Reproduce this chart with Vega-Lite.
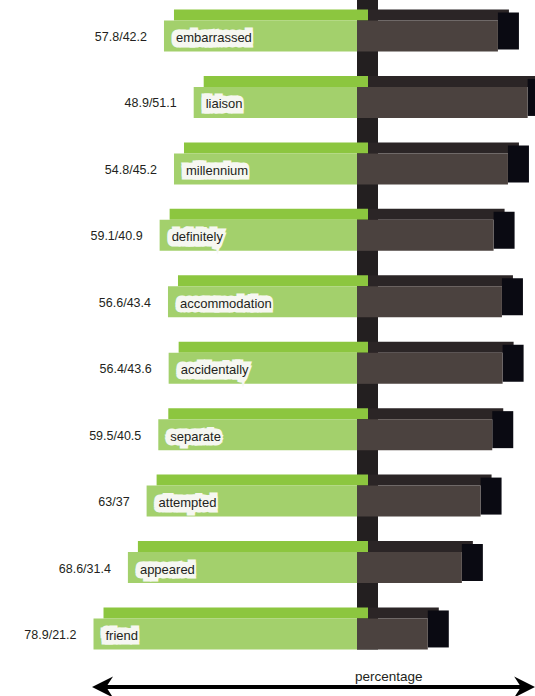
{
  "$schema": "https://vega.github.io/schema/vega-lite/v6.json",
  "width": 535,
  "height": 696,
  "padding": 0,
  "autosize": {"type": "none"},
  "background": "white",
  "config": {"view": {"stroke": null}, "text": {"font": "Liberation Sans"}},
  "data": {
    "values": [
      {"word": "embarrassed", "green": 57.8, "dark": 42.2, "label": "57.8/42.2"},
      {"word": "liaison", "green": 48.9, "dark": 51.1, "label": "48.9/51.1"},
      {"word": "millennium", "green": 54.8, "dark": 45.2, "label": "54.8/45.2"},
      {"word": "definitely", "green": 59.1, "dark": 40.9, "label": "59.1/40.9"},
      {"word": "accommodation", "green": 56.6, "dark": 43.4, "label": "56.6/43.4"},
      {"word": "accidentally", "green": 56.4, "dark": 43.6, "label": "56.4/43.6"},
      {"word": "separate", "green": 59.5, "dark": 40.5, "label": "59.5/40.5"},
      {"word": "attempted", "green": 63, "dark": 37, "label": "63/37"},
      {"word": "appeared", "green": 68.6, "dark": 31.4, "label": "68.6/31.4"},
      {"word": "friend", "green": 78.9, "dark": 21.2, "label": "78.9/21.2"}
    ]
  },
  "encoding": {
    "y": {"field": "word", "type": "nominal", "scale": {"domain": ["embarrassed", "liaison", "millennium", "definitely", "accommodation", "accidentally", "separate", "attempted", "appeared", "friend"], "paddingInner": 0, "paddingOuter": 0.2378, "align": 0.088}, "axis": null}
  },
  "resolve": {"scale": {"x": "independent"}},
  "layer": [
    {
      "mark": {"type": "bar", "color": "#231f20", "height": 67, "yOffset": -18, "x2Offset": 21},
      "encoding": {
        "x": {"datum": 0, "type": "quantitative", "scale": {"domain": [-106.9, 53.3], "nice": false, "zero": false}, "axis": null},
        "x2": {"datum": 0},
        "y": {"field": "word", "type": "nominal", "stack": null}
      }
    },
    {
      "mark": {"type": "bar", "color": "#8cc63f", "height": 11, "yOffset": -21, "xOffset": 10, "x2Offset": 11},
      "encoding": {
        "x": {"field": "green", "type": "quantitative", "scale": {"domain": [-53.3, 106.9], "reverse": true, "nice": false, "zero": false}, "axis": null},
        "x2": {"datum": 0}
      }
    },
    {
      "mark": {"type": "bar", "color": "#2b2526", "height": 11, "yOffset": -21, "xOffset": 11, "x2Offset": 11},
      "encoding": {
        "x": {"field": "dark", "type": "quantitative", "scale": {"domain": [-106.9, 53.3], "nice": false, "zero": false}, "axis": null},
        "x2": {"datum": 0}
      }
    },
    {
      "mark": {"type": "bar", "color": "#0a0a12", "height": 37, "yOffset": -5, "x2Offset": 21},
      "encoding": {
        "x": {"field": "dark", "type": "quantitative", "scale": {"domain": [-106.9, 53.3], "nice": false, "zero": false}, "axis": null},
        "x2": {"field": "dark"}
      }
    },
    {
      "mark": {"type": "bar", "color": "#a3d06c", "height": 31},
      "encoding": {
        "x": {"field": "green", "type": "quantitative", "scale": {"domain": [-53.3, 106.9], "reverse": true, "nice": false, "zero": false}, "axis": null},
        "x2": {"datum": 0}
      }
    },
    {
      "mark": {"type": "bar", "color": "#4b423f", "height": 31},
      "encoding": {
        "x": {"field": "dark", "type": "quantitative", "scale": {"domain": [-106.9, 53.3], "nice": false, "zero": false}, "axis": null},
        "x2": {"datum": 0}
      }
    },
    {
      "mark": {"type": "text", "align": "left", "baseline": "alphabetic", "dx": 10.5, "dy": 4, "fontSize": 13, "color": "#f6f7f1", "stroke": "#f6f7f1", "strokeWidth": 7, "strokeJoin": "miter"},
      "encoding": {
        "x": {"field": "green", "type": "quantitative", "scale": {"domain": [-53.3, 106.9], "reverse": true, "nice": false, "zero": false}, "axis": null},
        "text": {"field": "word", "type": "nominal"}
      }
    },
    {
      "mark": {"type": "text", "align": "left", "baseline": "alphabetic", "dx": 10.5, "dy": 7.5, "fontSize": 13, "color": "#f6f7f1", "stroke": "#f6f7f1", "strokeWidth": 7, "strokeJoin": "miter"},
      "encoding": {
        "x": {"field": "green", "type": "quantitative", "scale": {"domain": [-53.3, 106.9], "reverse": true, "nice": false, "zero": false}, "axis": null},
        "text": {"field": "word", "type": "nominal"}
      }
    },
    {
      "mark": {"type": "text", "align": "left", "baseline": "alphabetic", "dx": 12, "dy": 6, "fontSize": 13, "color": "#231f20"},
      "encoding": {
        "x": {"field": "green", "type": "quantitative", "scale": {"domain": [-53.3, 106.9], "reverse": true, "nice": false, "zero": false}, "axis": null},
        "text": {"field": "word", "type": "nominal"}
      }
    },
    {
      "mark": {"type": "text", "align": "right", "baseline": "alphabetic", "dx": -17, "dy": 5, "fontSize": 12.5, "color": "#231f20"},
      "encoding": {
        "x": {"field": "green", "type": "quantitative", "scale": {"domain": [-53.3, 106.9], "reverse": true, "nice": false, "zero": false}, "axis": null},
        "text": {"field": "label", "type": "nominal"}
      }
    },
    {
      "data": {"values": [{}]},
      "mark": {"type": "rule", "color": "black", "strokeWidth": 4},
      "encoding": {
        "x": {"datum": -76.2, "type": "quantitative", "scale": {"domain": [-106.9, 53.3], "nice": false, "zero": false}, "axis": null},
        "x2": {"datum": 50.2},
        "y": {"datum": "friend", "type": "nominal", "bandPosition": 1.299}
      }
    },
    {
      "data": {"values": [{}]},
      "mark": {"type": "point", "filled": true, "color": "black", "opacity": 1, "size": 441, "shape": "M-1,0L1,-1L0.35,0L1,1Z"},
      "encoding": {
        "x": {"datum": -76.2, "type": "quantitative", "scale": {"domain": [-106.9, 53.3], "nice": false, "zero": false}, "axis": null},
        "y": {"datum": "friend", "type": "nominal", "bandPosition": 1.299}
      }
    },
    {
      "data": {"values": [{}]},
      "mark": {"type": "point", "filled": true, "color": "black", "opacity": 1, "size": 441, "shape": "M1,0L-1,-1L-0.35,0L-1,1Z"},
      "encoding": {
        "x": {"datum": 50.2, "type": "quantitative", "scale": {"domain": [-106.9, 53.3], "nice": false, "zero": false}, "axis": null},
        "y": {"datum": "friend", "type": "nominal", "bandPosition": 1.299}
      }
    },
    {
      "data": {"values": [{}]},
      "mark": {"type": "text", "align": "left", "baseline": "alphabetic", "dx": -2, "fontSize": 13.5, "color": "#231f20", "text": "percentage"},
      "encoding": {
        "x": {"datum": 0, "type": "quantitative", "scale": {"domain": [-106.9, 53.3], "nice": false, "zero": false}, "axis": null},
        "y": {"datum": "friend", "type": "nominal", "bandPosition": 1.209}
      }
    }
  ]
}
